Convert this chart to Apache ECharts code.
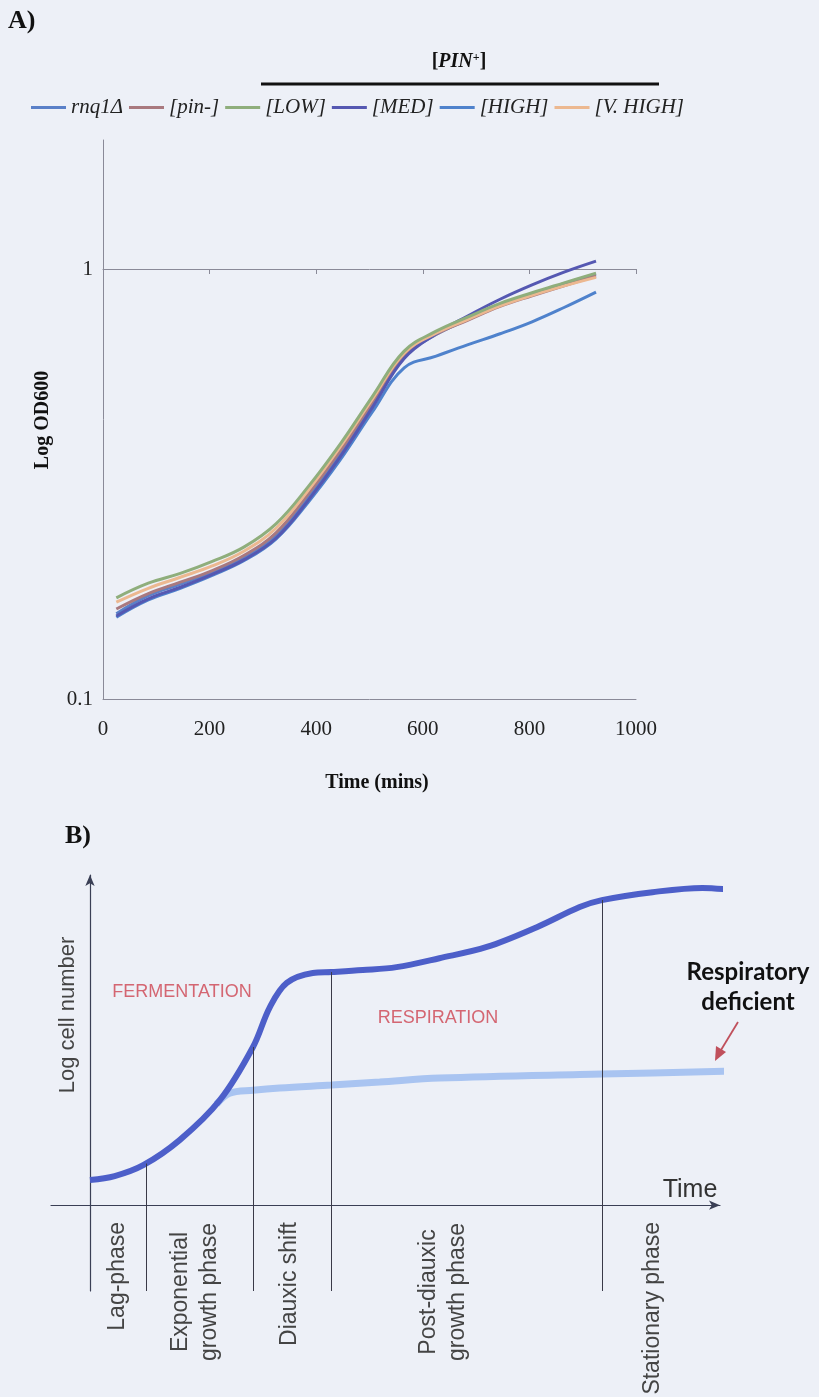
<!DOCTYPE html>
<html>
<head>
<meta charset="utf-8">
<script src="https://cdn.jsdelivr.net/npm/echarts@6/dist/echarts.min.js"></script>
<style>
  html, body { margin: 0; padding: 0; background: #edf0f7; }
  #chart { width: 819px; height: 1397px; }
</style>
</head>
<body>
<div id="chart"></div>
<script>
// ---------- Panel A: growth curves (log OD600 vs time) ----------
const timeMins = [25, 85, 145, 205, 265, 325, 385, 445, 505, 565, 625, 685, 745, 805, 865, 925];
const odRnq1 = [0.158, 0.174, 0.185, 0.197, 0.213, 0.240, 0.294, 0.371, 0.482, 0.625, 0.705, 0.765, 0.826, 0.877, 0.926, 0.975];
const odPinMinus = [0.162, 0.176, 0.187, 0.199, 0.216, 0.244, 0.300, 0.378, 0.490, 0.632, 0.706, 0.762, 0.820, 0.868, 0.916, 0.965];
const odLow = [0.172, 0.186, 0.196, 0.209, 0.226, 0.256, 0.312, 0.392, 0.505, 0.645, 0.718, 0.775, 0.833, 0.882, 0.930, 0.980];
const odMed = [0.156, 0.171, 0.182, 0.195, 0.211, 0.237, 0.290, 0.366, 0.476, 0.620, 0.708, 0.780, 0.852, 0.920, 0.985, 1.045];
const odHigh = [0.155, 0.170, 0.181, 0.194, 0.210, 0.236, 0.287, 0.360, 0.465, 0.590, 0.628, 0.668, 0.708, 0.755, 0.815, 0.885];
const odVHigh = [0.168, 0.181, 0.192, 0.204, 0.221, 0.250, 0.306, 0.386, 0.498, 0.638, 0.710, 0.765, 0.822, 0.870, 0.915, 0.958];
const strainNames = ['rnq1Δ', '[pin-]', '[LOW]', '[MED]', '[HIGH]', '[V. HIGH]'];
const strainColors = ['#5a80c8', '#a9797f', '#8fae7c', '#5558b2', '#4f82cc', '#ecb890'];
const xTicksA = [0, 200, 400, 600, 800, 1000];

// ---------- Panel B: schematic yeast growth phases ----------
const schemeTime = [0, 3.8, 8.2, 13.8, 20, 25.1, 27.7, 30.3, 34.3, 37.2, 42, 47.2, 53.8, 61.1, 68.8, 75.4, 78.8, 86.6, 94.3, 100];
const schemeWildType = [7.6, 8.8, 12.1, 19.7, 31.8, 47.9, 60, 67.3, 70.3, 70.6, 71.2, 72.1, 74.8, 78.2, 84.2, 90.3, 92.4, 94.8, 96.1, 95.2];
const schemeDefTime = [19.5, 21.5, 25.1, 29.2, 37.2, 44.6, 53.8, 78.8, 98.8];
const schemeDeficient = [30.6, 33.9, 34.8, 35.5, 36.4, 37.3, 38.5, 39.7, 40.6];
const phaseBounds = [8.6, 25.1, 37.2, 78.8];
const phaseTops = [12.6, 47.9, 70.6, 92.4];

const chart = echarts.init(document.getElementById('chart'), null, { renderer: 'canvas' });

const serif = 'Liberation Serif, Times New Roman, serif';
const sans = 'Liberation Sans, Arial, sans-serif';
const strainData = [odRnq1, odPinMinus, odLow, odMed, odHigh, odVHigh];
const drawOrder = [4, 0, 1, 3, 5, 2];

const seriesA = drawOrder.map(k => ({
  name: strainNames[k],
  type: 'line',
  xAxisIndex: 0,
  yAxisIndex: 0,
  smooth: 0.4,
  symbol: 'none',
  data: timeMins.map((t, i) => [t, strainData[k][i]]),
  lineStyle: { color: strainColors[k], width: 3 },
  itemStyle: { color: strainColors[k] },
  z: 3
}));

const phaseLines = phaseBounds.map((t, i) => [
  { coord: [t, phaseTops[i]] },
  { coord: [t, -26] }
]);

const option = {
  backgroundColor: '#edf0f7',
  animation: false,
  legend: {
    data: strainNames.map(n => ({ name: n, icon: 'rect' })),
    left: 26,
    top: 92,
    itemWidth: 35,
    itemHeight: 3,
    itemGap: 6,
    textStyle: { fontFamily: serif, fontStyle: 'italic', fontSize: 21, color: '#222' }
  },
  grid: [
    { left: 103, right: 183, top: 140, bottom: 698 },
    { left: 51, right: 99, top: 875, bottom: 106 }
  ],
  xAxis: [
    {
      gridIndex: 0, type: 'value', min: 0, max: 1000, interval: 200,
      axisLine: { show: true, lineStyle: { color: '#8a8a98', width: 1 } },
      axisTick: { show: false },
      splitLine: { show: false },
      axisLabel: { margin: 20, fontFamily: serif, fontSize: 21, color: '#222',
        formatter: v => (xTicksA.indexOf(v) >= 0 ? String(v) : '') }
    },
    {
      gridIndex: 0, type: 'value', min: 0, max: 1000, interval: 200,
      position: 'top', offset: -129,
      axisLine: { show: true, lineStyle: { color: '#8a8a98', width: 1 } },
      axisTick: { show: true, inside: true, length: 5, lineStyle: { color: '#8a8a98' } },
      splitLine: { show: false },
      axisLabel: { show: false }
    },
    {
      gridIndex: 1, type: 'value', min: -6, max: 97,
      axisLine: { show: true, onZero: true, symbol: ['none', 'arrow'], symbolSize: [7, 11],
        lineStyle: { color: '#3a3f55', width: 1.2 } },
      axisTick: { show: false }, axisLabel: { show: false }, splitLine: { show: false }
    }
  ],
  yAxis: [
    {
      gridIndex: 0, type: 'log', logBase: 10, min: 0.1, max: 2,
      axisLine: { show: true, lineStyle: { color: '#8a8a98', width: 1 } },
      axisTick: { show: false },
      splitLine: { show: false },
      minorTick: { show: false },
      axisLabel: { margin: 10, fontFamily: serif, fontSize: 21, color: '#222',
        formatter: v => (Math.abs(v - 0.1) < 1e-9 ? '0.1' : (Math.abs(v - 1) < 1e-9 ? '1' : '')) }
    },
    {
      gridIndex: 1, type: 'value', min: -26, max: 100,
      axisLine: { show: true, onZero: true, symbol: ['none', 'arrow'], symbolSize: [7, 11],
        lineStyle: { color: '#3a3f55', width: 1.2 } },
      axisTick: { show: false }, axisLabel: { show: false }, splitLine: { show: false }
    }
  ],
  series: seriesA.concat([
    {
      name: 'wild type',
      type: 'line',
      xAxisIndex: 2, yAxisIndex: 1,
      smooth: 0.35, symbol: 'none', clip: false,
      data: schemeTime.map((t, i) => [t, schemeWildType[i]]),
      lineStyle: { color: '#4d5fc9', width: 6 },
      z: 4,
      markLine: {
        silent: true, symbol: 'none', animation: false,
        label: { show: false },
        lineStyle: { color: '#3a3a48', width: 1, type: 'solid' },
        data: phaseLines
      }
    },
    {
      name: 'respiratory deficient',
      type: 'line',
      xAxisIndex: 2, yAxisIndex: 1,
      smooth: 0.35, symbol: 'none', clip: false,
      data: schemeDefTime.map((t, i) => [t, schemeDeficient[i]]),
      lineStyle: { color: '#a9c4f1', width: 7 },
      z: 3
    }
  ]),
  graphic: [
    // panel A annotations
    { type: 'text', left: 8, top: 8, style: { text: 'A)', font: 'bold 26px ' + serif, fill: '#111' } },
    { type: 'text', x: 459, y: 62, style: {
        text: '{b|[}{i|PIN}{s|+}{b|]}', align: 'center', verticalAlign: 'middle',
        rich: {
          b: { font: 'bold 20px ' + serif, fill: '#111' },
          i: { font: 'italic bold 20px ' + serif, fill: '#111' },
          s: { font: 'bold 12px ' + serif, fill: '#111', verticalAlign: 'top', padding: [0, 0, 8, 0] }
        } } },
    { type: 'line', shape: { x1: 261, y1: 84, x2: 659, y2: 84 }, style: { stroke: '#111', lineWidth: 3 } },
    { type: 'text', x: 377, y: 783, style: { text: 'Time (mins)', font: 'bold 20px ' + serif, fill: '#111', align: 'center', verticalAlign: 'middle' } },
    { type: 'text', x: 43, y: 420, rotation: Math.PI / 2, style: { text: 'Log OD600', font: 'bold 20px ' + serif, fill: '#111', align: 'center', verticalAlign: 'middle' } },

    // panel B annotations
    { type: 'text', left: 65, top: 823, style: { text: 'B)', font: 'bold 26px ' + serif, fill: '#111' } },
    { type: 'text', x: 68, y: 1015, rotation: Math.PI / 2, style: { text: 'Log cell number', font: '22px ' + sans, fill: '#444', align: 'center', verticalAlign: 'middle' } },
    { type: 'text', x: 690, y: 1190, style: { text: 'Time', font: '25px ' + sans, fill: '#333', align: 'center', verticalAlign: 'middle' } },
    { type: 'text', x: 182, y: 992, style: { text: 'FERMENTATION', font: '18px ' + sans, fill: '#d46672', align: 'center', verticalAlign: 'middle' } },
    { type: 'text', x: 438, y: 1018, style: { text: 'RESPIRATION', font: '18px ' + sans, fill: '#d46672', align: 'center', verticalAlign: 'middle' } },
    { type: 'text', x: 748, y: 972, style: { text: 'Respiratory', font: 'bold 24px Lato, ' + sans, fill: '#111', align: 'center', verticalAlign: 'middle' } },
    { type: 'text', x: 748, y: 1002, style: { text: 'deficient', font: 'bold 24px Lato, ' + sans, fill: '#111', align: 'center', verticalAlign: 'middle' } },
    { type: 'line', shape: { x1: 738, y1: 1022, x2: 721, y2: 1050 }, style: { stroke: '#c0505c', lineWidth: 1.8 } },
    { type: 'polygon', shape: { points: [[715, 1061], [716, 1046], [726, 1052]] }, style: { fill: '#c0505c' } },

    { type: 'text', x: 118, y: 1222, rotation: Math.PI / 2, style: { text: 'Lag-phase', font: '23px ' + sans, fill: '#444', align: 'right', verticalAlign: 'middle' } },
    { type: 'text', x: 195, y: 1292, rotation: Math.PI / 2, style: { text: 'Exponential\ngrowth phase', font: '23px ' + sans, lineHeight: 29, fill: '#444', align: 'center', verticalAlign: 'middle' } },
    { type: 'text', x: 290, y: 1222, rotation: Math.PI / 2, style: { text: 'Diauxic shift', font: '23px ' + sans, fill: '#444', align: 'right', verticalAlign: 'middle' } },
    { type: 'text', x: 443, y: 1292, rotation: Math.PI / 2, style: { text: 'Post-diauxic\ngrowth phase', font: '23px ' + sans, lineHeight: 29, fill: '#444', align: 'center', verticalAlign: 'middle' } },
    { type: 'text', x: 653, y: 1222, rotation: Math.PI / 2, style: { text: 'Stationary phase', font: '23px ' + sans, fill: '#444', align: 'right', verticalAlign: 'middle' } }
  ]
};

chart.setOption(option);
</script>
</body>
</html>
